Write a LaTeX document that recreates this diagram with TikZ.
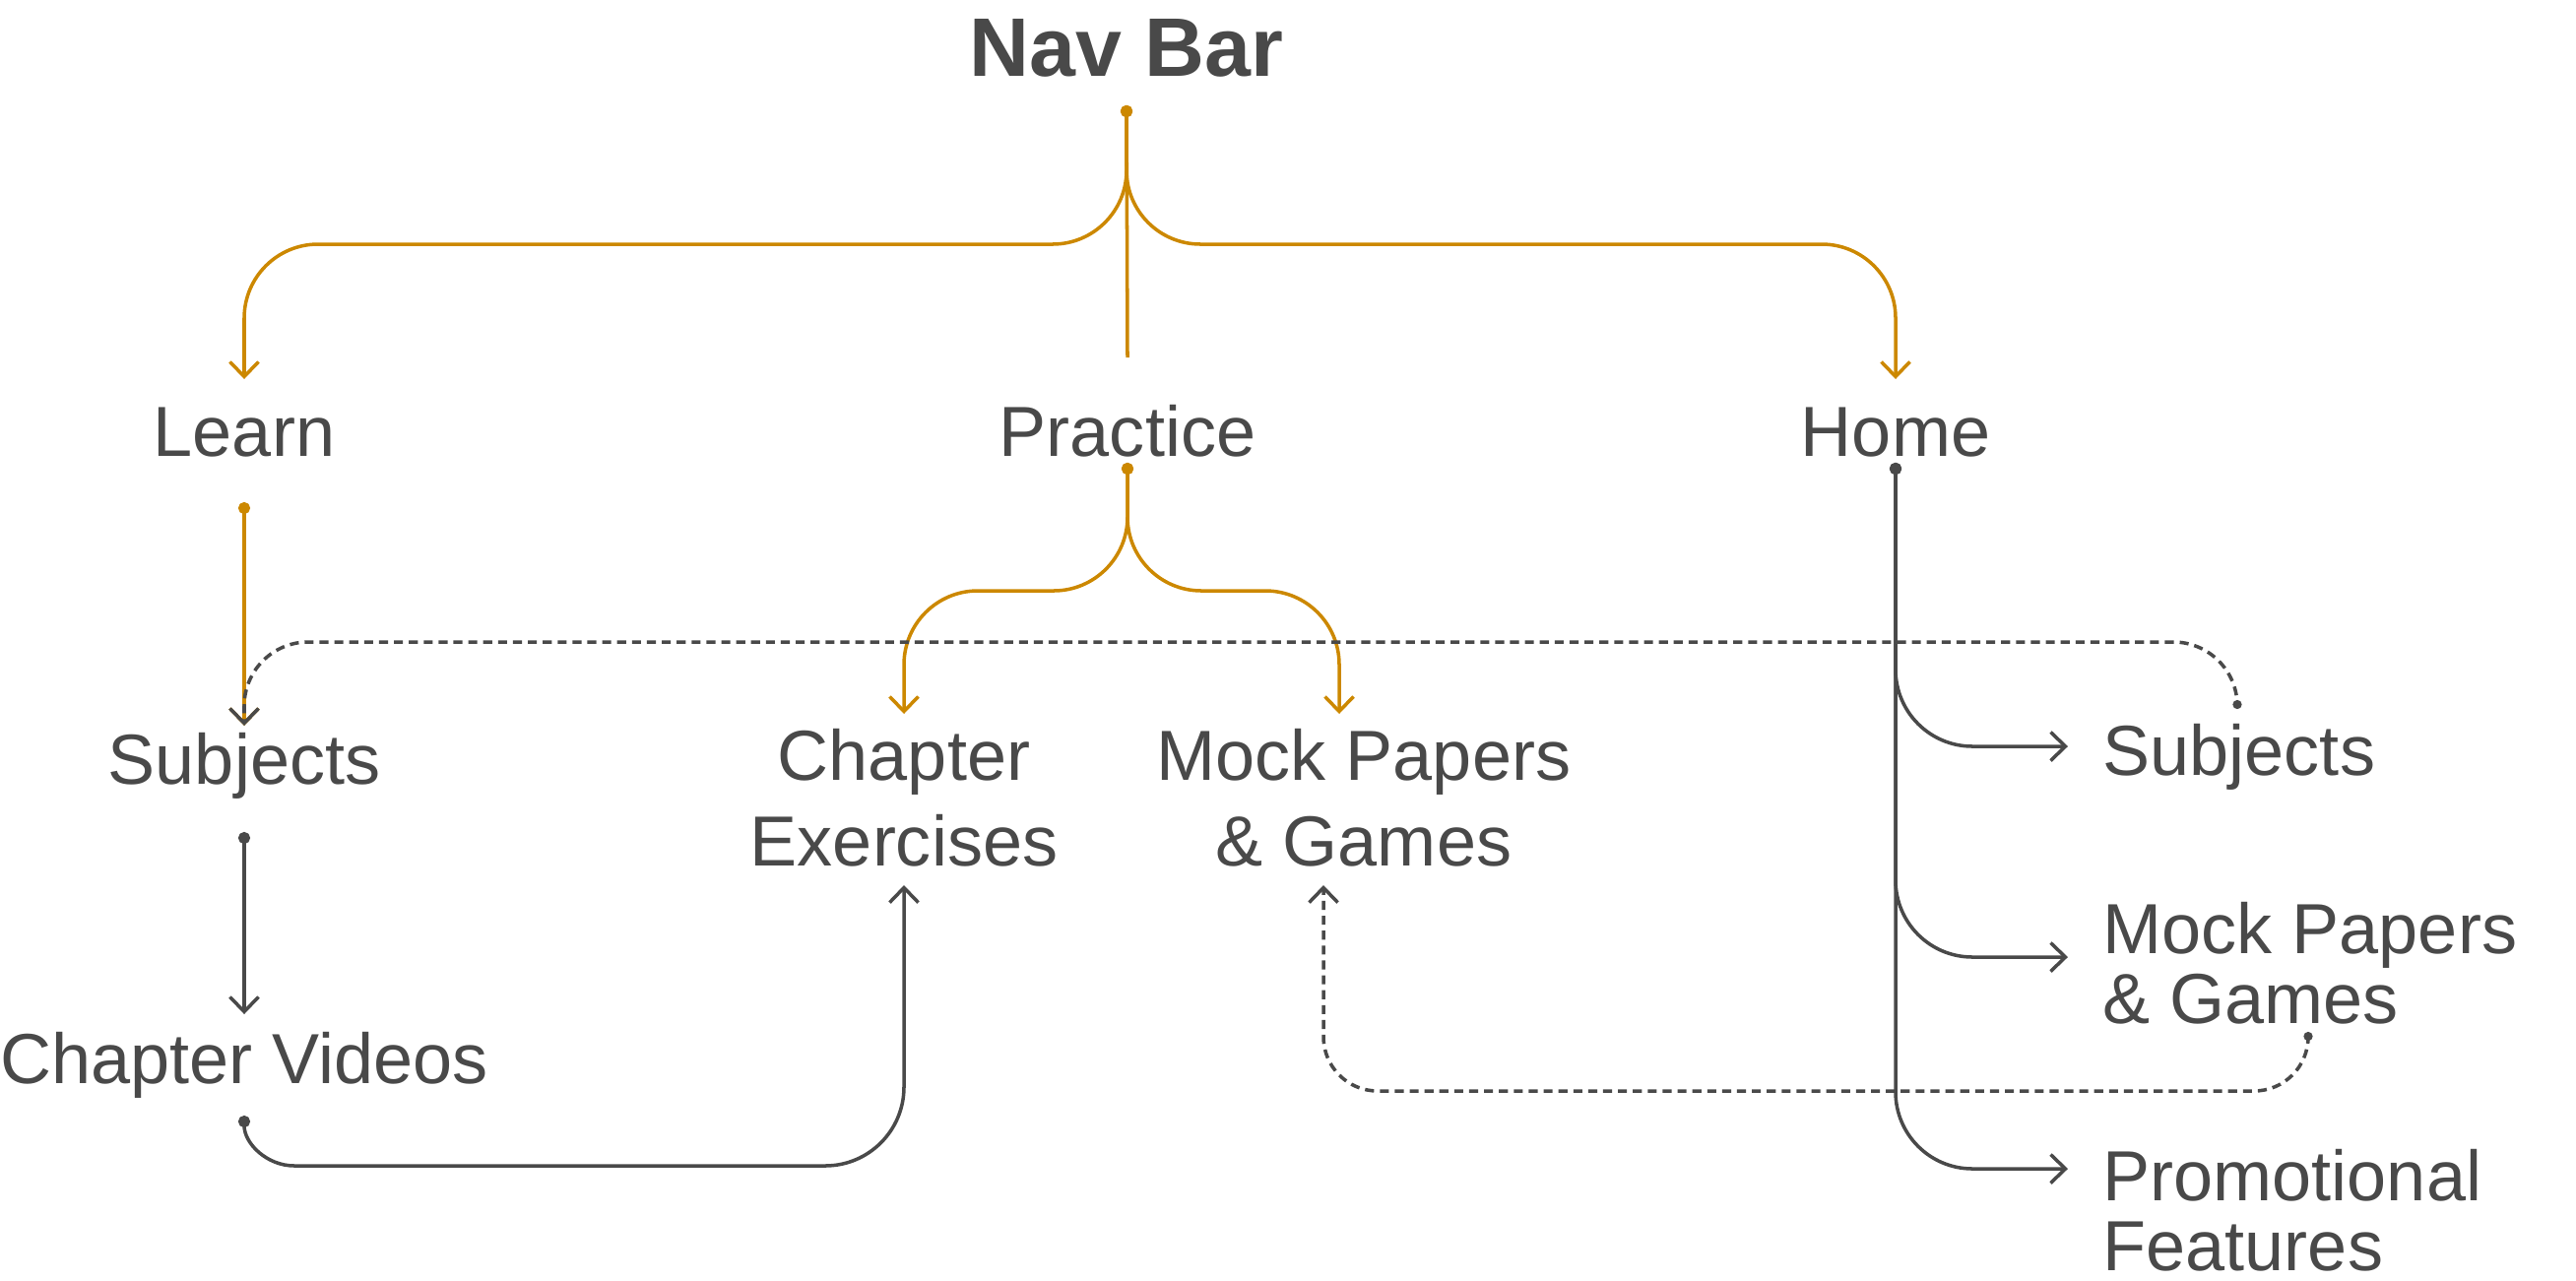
\documentclass[tikz,border=0pt]{standalone}
\usepackage{fontspec}
\setmainfont{Liberation Sans}
\usetikzlibrary{arrows.meta}
\definecolor{ink}{RGB}{73,73,73}
\definecolor{amber}{RGB}{204,136,0}

\begin{document}
\begin{tikzpicture}
  [x=0.1mm,y=-0.1mm,every node/.style={text=ink,inner sep=0pt,anchor=base,font=\fontsize{20.5}{24.75}\selectfont}]
  \tikzstyle{gold} = [draw=amber,line width=1pt,{Circle[length=1.2mm]}-{Straight Barb[length=1.5mm,width=2.9mm]}]
  \tikzstyle{grey} = [draw=ink,line width=1pt,{Circle[length=1.2mm]}-{Straight Barb[length=1.5mm,width=2.9mm]}]
  \tikzstyle{back} = [grey,dash pattern=on 2.6pt off 1.7pt,{Circle[length=0.9mm]}-{Straight Barb[length=1.5mm,width=2.9mm]}]
  \tikzstyle{side} = [anchor=base west,align=left,font=\fontsize{20.5}{20.2}\selectfont]
  \useasboundingbox (0,0) rectangle (2616,1300);
  \node[font=\fontsize{24}{28}\selectfont\bfseries] (nav) at (1144,77) {Nav Bar};
  \node (learn) at (248,463) {Learn};
  \node (prac)  at (1145,463) {Practice};
  \node (home)  at (1925,463) {Home};
  \node (subj)  at (248,796) {Subjects};
  \node[align=center] (chex) at (918,879) {Chapter\\Exercises};
  \node[align=center] (mock) at (1385,879) {Mock Papers\\\& Games};
  \node (cvid)  at (248,1100) {Chapter Videos};
  \node[side] (hsubj) at (2135,787) {Subjects};
  \node[side] (hmock) at (2135,1039) {Mock Papers\\\& Games};
  \node[side] (promo) at (2135,1290) {Promotional\\Features};
  % top level
  \draw[draw=amber,line width=1pt,{Circle[length=1.2mm]}-] ([yshift=-3.0mm]nav.base) -- ([yshift=10mm]prac.base);
  \foreach \dest in {learn,home}
    \draw[gold,rounded corners=7.5mm] ([yshift=-3.0mm]nav.base) -- ++(0,141) -| ([yshift=7.8mm]\dest.base);
  \foreach \dest/\dx in {chex/0,mock/-2.5}
    \draw[gold,rounded corners=7.5mm] ([yshift=-0.7mm]prac.base) -- ++(0,130) -| ([shift={(\dx mm,15.4mm)}]\dest.base);
  \draw[gold] ([yshift=-4.7mm]learn.base) -- ([yshift=5.9mm]subj.base);
  % learning path
  \draw[grey] ([yshift=-4.9mm]subj.base) -- ([yshift=7.0mm]cvid.base);
  \draw[grey] ([yshift=-3.3mm]cvid.base) arc[start angle=180,end angle=270,radius=5.1mm]
    -- ([shift={(-8mm,-30.5mm)}]chex.base) arc[start angle=270,end angle=360,radius=8mm]
    -- ([yshift=-2.0mm]chex.base);
  \foreach \dest/\dy in {hsubj/2.9,hmock/6.7,promo/10.3}
    \draw[grey,rounded corners=7.8mm] ([yshift=-0.7mm]home.base) |- ([shift={(-3.5mm,\dy mm)}]\dest.base west);
  % cross links
  \draw[back,rounded corners=6.5mm] ([shift={(13.7mm,6.7mm)}]hsubj.base west) |- ([yshift=14.4mm]subj.base) -- ([yshift=5.9mm]subj.base);
  \draw[back,rounded corners=5.5mm] ([shift={(20.9mm,-0.9mm)}]hmock.base west) |- ([shift={(-4.1mm,-22.9mm)}]mock.base) -- ([shift={(-4.1mm,-2.0mm)}]mock.base);
\end{tikzpicture}
\end{document}
